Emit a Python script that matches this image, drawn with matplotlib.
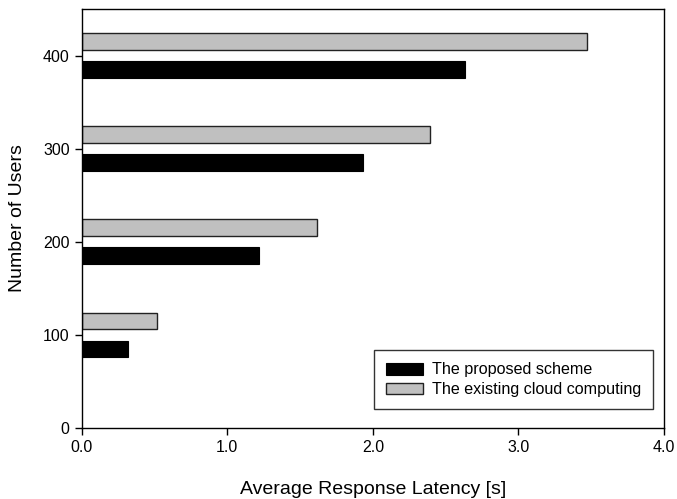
import numpy as np
import matplotlib
matplotlib.use('Agg')
import matplotlib.pyplot as plt
from matplotlib.ticker import FormatStrFormatter

plt.rcParams['font.family'] = ['Liberation Sans', 'DejaVu Sans']

users = [100, 200, 300, 400]
proposed = [0.32, 1.22, 1.93, 2.63]
existing = [0.52, 1.62, 2.39, 3.47]

fig = plt.figure(figsize=(6.77, 4.99), dpi=100)
ax = fig.add_axes([0.1204, 0.142, 0.8606, 0.840])

y = np.array(users)
ax.barh(y - 15, proposed, height=18, color='black', edgecolor='black',
        linewidth=0.8, label='The proposed scheme')
ax.barh(y + 15, existing, height=18, color='#c0c0c0', edgecolor='#222222',
        linewidth=1.0, label='The existing cloud computing')

ax.set_xlim(0, 4)
ax.set_ylim(0, 450)
ax.set_xticks([0, 1, 2, 3, 4])
ax.set_yticks([0, 100, 200, 300, 400])
ax.xaxis.set_major_formatter(FormatStrFormatter('%.1f'))
ax.tick_params(direction='out', length=5, width=1, labelsize=11.5)
for s in ax.spines.values():
    s.set_linewidth(1)

ax.set_xlabel('Average Response Latency [s]', fontsize=14, labelpad=19)
ax.set_ylabel('Number of Users', fontsize=14, labelpad=12)

leg = ax.legend(loc='lower right', bbox_to_anchor=(0.981, 0.045), borderaxespad=0,
                fontsize=11.6, frameon=True, fancybox=False, edgecolor='black',
                handlelength=2.3, handleheight=0.75, borderpad=0.75,
                labelspacing=0.3, handletextpad=0.55)
leg.get_frame().set_linewidth(1)

fig.savefig('out.png', dpi=100)
